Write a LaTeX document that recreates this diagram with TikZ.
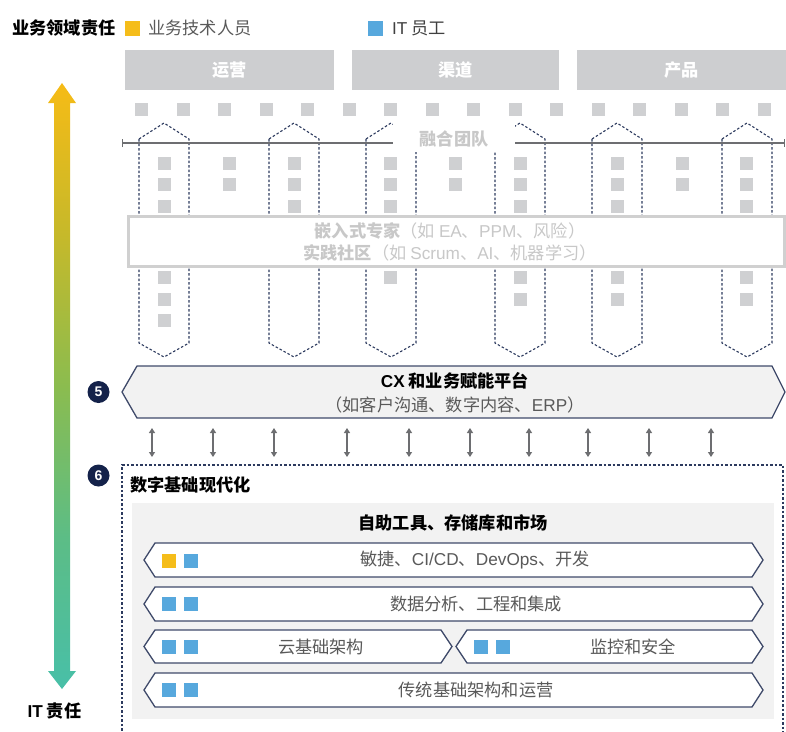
\documentclass[tikz,border=0pt]{standalone}
\usepackage{fontspec}
\setmainfont{Noto Sans CJK SC}
\newfontfamily\lat{Liberation Sans}
\usetikzlibrary{arrows.meta}
\definecolor{barg}{HTML}{CDCED0}
\definecolor{sqg}{HTML}{CFD0D2}
\definecolor{navy}{HTML}{2C3A5E}
\definecolor{hexb}{HTML}{3F4A6A}
\definecolor{pale}{HTML}{F2F2F2}
\definecolor{txtg}{HTML}{595959}
\definecolor{faint}{HTML}{C8C8C8}
\definecolor{faintb}{HTML}{D0D0D0}
\definecolor{arrg}{HTML}{6D6E71}
\definecolor{yel}{HTML}{F5BD1A}
\definecolor{blu}{HTML}{57A8DD}
\definecolor{circ}{HTML}{14224A}
\definecolor{gA}{HTML}{48BFA8}
\definecolor{gB}{HTML}{5CBD86}
\definecolor{gC}{HTML}{8BBC4F}
\definecolor{gD}{HTML}{C6B92A}
\definecolor{gE}{HTML}{F6BB16}
\pgfdeclareverticalshading{itgrad}{100bp}{color(0bp)=(gA); color(25bp)=(gA); color(37.5bp)=(gB); color(50bp)=(gC); color(62.5bp)=(gD); color(75bp)=(gE); color(100bp)=(gE)}
\newcommand\myfs{\fontsize{17.2}{20}\selectfont}
\tikzset{
  every node/.style={inner sep=0pt, font=\myfs},
  gsq/.style={fill=sqg, minimum size=13pt},
  lsq/.style={minimum size=14pt},
  topbar/.style={fill=barg, minimum height=40pt, text=white, font=\myfs\bfseries},
  navydash/.style={draw=navy, line width=1.1pt, dash pattern=on 2.5pt off 2pt},
  rowhex/.style={draw=hexb, line width=1.3pt, fill=white},
  dbl/.style={draw=arrg, line width=1.2pt, {Triangle[width=6pt,length=5pt]}-{Triangle[width=6pt,length=5pt]}},
  numcirc/.style={circle, fill=circ, minimum size=22pt, text=white, font=\lat\bfseries\fontsize{14}{14}\selectfont},
}
\begin{document}
\begin{tikzpicture}[x=1pt,y=-1pt]
\useasboundingbox (0,0) rectangle (786,731);

% gradient arrow
\shade[shading=itgrad] (54,103) -- (48,103) -- (62,83) -- (76,103) -- (70,103) -- (70,671) -- (76,671) -- (62,689) -- (48,671) -- (54,671) -- cycle;
\node[font=\myfs\bfseries] (itr) at (54.5,711) {{\lat IT} 责任};

% legend
\node[anchor=west, font=\myfs\bfseries] (lg) at (12,28) {业务领域责任};
\node[lsq, fill=yel, minimum size=15pt] (ly) at (132.5,28.5) {};
\node[anchor=west, text=txtg] (lyt) at (148,28) {业务技术人员};
\node[lsq, fill=blu, minimum size=15pt] (lb) at (375.5,28.5) {};
\node[anchor=west, text=black!75] (lbt) at (392,28) {{\lat IT} 员工};

% top bars
\node[topbar, minimum width=209pt] (ops) at (229.5,70) {运营};
\node[topbar, minimum width=207pt] (chn) at (455.5,70) {渠道};
\node[topbar, minimum width=209pt] (prd) at (681.5,70) {产品};

\foreach \i in {0,...,15} \node[gsq] (t\i) at (141.5+41.5*\i,109.5) {};

% columns
\foreach \c in {164,294,391,520,617,747}
  \draw[navydash] (\c-25,139) -- (\c,123) -- (\c+25,139) -- (\c+25,343) -- (\c,357) -- (\c-25,343) -- cycle;

% squares above
\foreach \x in {164.5,294.5,390.5,520.5,617,746.5}
  \foreach \y in {163,184.5,206} \node[gsq] at (\x,\y) {};
\foreach \x in {229.5,455.5,682.5}
  \foreach \y in {163,184.5} \node[gsq] at (\x,\y) {};
% squares below
\foreach \y in {277,299,320} \node[gsq] at (164.5,\y) {};
\node[gsq] at (390.5,277) {};
\foreach \x in {520.5,617,746.5}
  \foreach \y in {277,299} \node[gsq] at (\x,\y) {};

% fusion team line
\coordinate (fl) at (122,143);
\coordinate (fr) at (785,143);
\draw[arrg, line width=1.2pt, {Bar[width=8pt]}-{Bar[width=8pt]}] (fl) -- (fr);
\fill[white] (393,117) rectangle (515,152);
\node[text=faint, font=\myfs\bfseries] (ft) at (454,139) {融合团队};

% embedded box
\draw[draw=faintb, line width=3pt, fill=white] (128,216) rectangle (784,266);
\node[text=faint] (e1) at (450,231) {\textbf{嵌入式专家}（如 {\lat EA}、{\lat PPM}、风险）};
\node[text=faint] (e2) at (450,253) {\textbf{实践社区}（如 {\lat Scrum}、{\lat AI}、机器学习）};

% CX platform
\draw[draw=hexb, line width=1.3pt, fill=pale] (137,366) -- (772,366) -- (785,392) -- (772,418) -- (137,418) -- (122,392) -- cycle;
\node[font=\myfs\bfseries] (cx1) at (455,381) {{\lat CX} 和业务赋能平台};
\node[text=txtg] (cx2) at (455,405) {（如客户沟通、数字内容、{\lat ERP}）};
\node[numcirc] (n5) at (98.5,392) {5};

% double arrows
\foreach \x [count=\k] in {152,213,274,347,409,470,529,588,649,711} {
  \coordinate (u\k) at (\x,428);
  \coordinate (d\k) at (\x,457);
  \draw[dbl] (u\k) -- (d\k);
}

% digital foundation
\draw[navydash] (122,735) -- (122,465) -- (783,465) -- (783,735);
\node[numcirc] (n6) at (98.5,475.5) {6};
\node[anchor=west, font=\myfs\bfseries] (dt) at (130,485) {数字基础现代化};
\fill[pale] (132,503) rectangle (774,719);
\node[font=\myfs\bfseries] (st) at (453,523) {自助工具、存储库和市场};

\draw[rowhex] (155,543) -- (752,543) -- (763,560) -- (752,577) -- (155,577) -- (144,560) -- cycle;
\draw[rowhex] (155,587) -- (752,587) -- (763,604) -- (752,621) -- (155,621) -- (144,604) -- cycle;
\draw[rowhex] (155,630) -- (441,630) -- (452,646.5) -- (441,663) -- (155,663) -- (144,646.5) -- cycle;
\draw[rowhex] (467,630) -- (752,630) -- (763,646.5) -- (752,663) -- (467,663) -- (456,646.5) -- cycle;
\draw[rowhex] (155,673) -- (752,673) -- (763,690) -- (752,707) -- (155,707) -- (144,690) -- cycle;

\node[lsq, fill=yel] at (169,561) {};
\node[lsq, fill=blu] at (191,561) {};
\foreach \y in {604,647,690} {
  \node[lsq, fill=blu] at (169,\y) {};
  \node[lsq, fill=blu] at (191,\y) {};
}
\node[lsq, fill=blu] at (481,647) {};
\node[lsq, fill=blu] at (503,647) {};

\node[text=txtg] (r1) at (475,560) {敏捷、{\lat CI/CD}、{\lat DevOps}、开发};
\node[text=txtg] (r2) at (476,604) {数据分析、工程和集成};
\node[text=txtg] (r3) at (321,647) {云基础架构};
\node[text=txtg] (r3b) at (633,647) {监控和安全};
\node[text=txtg] (r4) at (476,690) {传统基础架构和运营};
\end{tikzpicture}
\end{document}
